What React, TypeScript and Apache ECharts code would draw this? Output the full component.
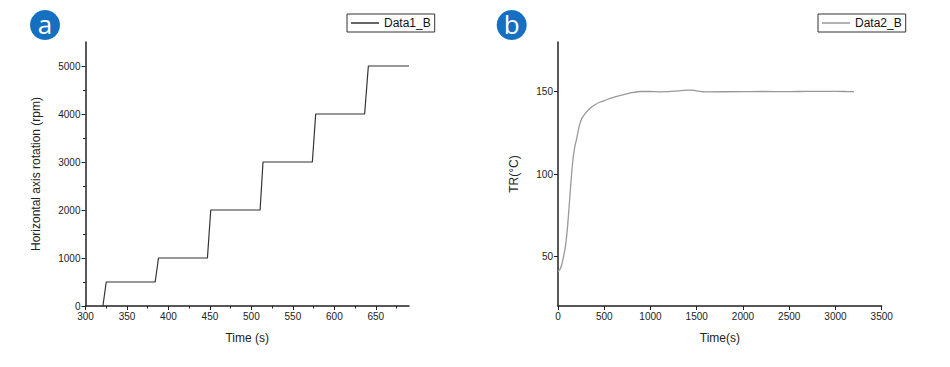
import React, { useEffect, useRef } from "react";
import * as echarts from "echarts";

// Panel a: rotation step profile
const timeA: number[] = [321, 325, 384, 388, 447, 451, 510.5, 514, 573.5, 577.5, 636.5, 641, 690];
const rpmA: number[] = [0, 500, 500, 1000, 1000, 2000, 2000, 3000, 3000, 4000, 4000, 5000, 5000];
const xTicksA: number[] = [300, 350, 400, 450, 500, 550, 600, 650];
const xMinorA: number[] = [325, 375, 425, 475, 525, 575, 625, 675];
const yTicksA: number[] = [0, 1000, 2000, 3000, 4000, 5000];
const yMinorA: number[] = [500, 1500, 2500, 3500, 4500];

// Panel b: temperature curve
const timeB: number[] = [0, 20, 40, 60, 80, 100, 120, 140, 160, 180, 200, 230, 260, 300, 350, 400, 450, 500, 600, 700, 800, 900, 1000, 1100, 1200, 1300, 1400, 1450, 1500, 1550, 1600, 2000, 2200, 2500, 2700, 2900, 3100, 3200];
const tempB: number[] = [41, 42, 45, 50, 56, 66, 80, 95, 108, 116, 121, 129, 134, 137, 140, 142, 143.5, 144.5, 146.5, 148, 149.3, 150, 150, 149.8, 149.9, 150.4, 150.8, 150.8, 150.4, 149.9, 149.8, 149.9, 150, 149.9, 150.1, 150.1, 150, 149.9];
const yTicksB: number[] = [50, 100, 150];

const FONT = "Liberation Sans, Arial, sans-serif";

export default function App() {
  const ref = useRef<HTMLDivElement>(null);
  useEffect(() => {
    document.body.style.margin = "0";
    if (!ref.current) return;
    const chart = echarts.init(ref.current, null, { renderer: "svg" });
    const axisLine = { show: true, onZero: false, lineStyle: { color: "#222", width: 1.5 } };
    const fmt = (v: number) => String(v);
    const labelStyle = { color: "#222", fontSize: 10, fontFamily: FONT, formatter: fmt };
    const nameStyle = { color: "#222", fontSize: 12, fontFamily: FONT };
    const legendBase = {
      orient: "horizontal",
      icon: "rect",
      itemWidth: 28,
      itemHeight: 1.5,
      itemGap: 4,
      padding: [3, 4, 3, 4],
      borderColor: "#333",
      borderWidth: 1,
      textStyle: { color: "#111", fontSize: 12, fontFamily: FONT },
    };
    chart.setOption({
      animation: false,
      backgroundColor: "#fff",
      grid: [
        { left: 85.5, top: 42, width: 323.5, height: 264 },
        { left: 558, top: 42, width: 323.7, height: 264 },
      ],
      legend: [
        { ...legendBase, data: ["Data1_B"], left: 347, top: 14 },
        { ...legendBase, data: ["Data2_B"], left: 818, top: 14 },
      ],
      xAxis: [
        {
          type: "value",
          gridIndex: 0,
          min: 300,
          max: 690,
          interval: 50,
          name: "Time (s)",
          nameLocation: "middle",
          nameGap: 26,
          nameTextStyle: nameStyle,
          axisLine,
          axisTick: { show: true, inside: false, length: 4, customValues: xTicksA, lineStyle: { color: "#222" } },
          axisLabel: { ...labelStyle, margin: 5, customValues: xTicksA },
          splitLine: { show: false },
        },
        {
          type: "value",
          gridIndex: 0,
          min: 300,
          max: 690,
          position: "bottom",
          axisLine: { show: false, onZero: false },
          axisTick: { show: true, inside: false, length: 2.5, customValues: xMinorA, lineStyle: { color: "#222" } },
          axisLabel: { show: false },
          splitLine: { show: false },
        },
        {
          type: "value",
          gridIndex: 1,
          min: 0,
          max: 3500,
          interval: 500,
          name: "Time(s)",
          nameLocation: "middle",
          nameGap: 26,
          nameTextStyle: nameStyle,
          axisLine,
          axisTick: { show: true, inside: false, length: 4, lineStyle: { color: "#222" } },
          axisLabel: { ...labelStyle, margin: 5 },
          splitLine: { show: false },
        },
      ],
      yAxis: [
        {
          type: "value",
          gridIndex: 0,
          min: 0,
          max: 5500,
          name: "Horizontal axis rotation (rpm)",
          nameLocation: "middle",
          nameGap: 44,
          nameTextStyle: nameStyle,
          axisLine,
          axisTick: { show: true, inside: false, length: 4, customValues: yTicksA, lineStyle: { color: "#222" } },
          axisLabel: { ...labelStyle, margin: 5, customValues: yTicksA },
          splitLine: { show: false },
        },
        {
          type: "value",
          gridIndex: 0,
          min: 0,
          max: 5500,
          position: "left",
          axisLine: { show: false, onZero: false },
          axisTick: { show: true, inside: false, length: 2.5, customValues: yMinorA, lineStyle: { color: "#222" } },
          axisLabel: { show: false },
          splitLine: { show: false },
        },
        {
          type: "value",
          gridIndex: 1,
          min: 20,
          max: 180,
          name: "TR(°C)",
          nameLocation: "middle",
          nameGap: 38,
          nameTextStyle: nameStyle,
          axisLine,
          axisTick: { show: true, inside: false, length: 4, customValues: yTicksB, lineStyle: { color: "#222" } },
          axisLabel: { ...labelStyle, margin: 5, customValues: yTicksB },
          splitLine: { show: false },
        },
      ],
      series: [
        {
          name: "Data1_B",
          type: "line",
          xAxisIndex: 0,
          yAxisIndex: 0,
          symbol: "none",
          data: timeA.map((t, i) => [t, rpmA[i]]),
          lineStyle: { color: "#333", width: 1.2 },
          itemStyle: { color: "#333" },
        },
        {
          name: "Data2_B",
          type: "line",
          xAxisIndex: 2,
          yAxisIndex: 2,
          symbol: "none",
          smooth: 0.3,
          data: timeB.map((t, i) => [t, tempB[i]]),
          lineStyle: { color: "#999", width: 1.3 },
          itemStyle: { color: "#999" },
        },
      ],
      graphic: [
        { type: "circle", shape: { cx: 45, cy: 25, r: 15 }, style: { fill: "#1570c2" } },
        {
          type: "text",
          x: 45,
          y: 24,
          style: { text: "a", fill: "#fff", fontSize: 26, fontFamily: "Open Sans, sans-serif", align: "center", verticalAlign: "middle" },
        },
        { type: "circle", shape: { cx: 511.7, cy: 25, r: 15 }, style: { fill: "#1570c2" } },
        {
          type: "text",
          x: 511.7,
          y: 24,
          style: { text: "b", fill: "#fff", fontSize: 26, fontFamily: "Open Sans, sans-serif", align: "center", verticalAlign: "middle" },
        },
      ],
    });
    return () => chart.dispose();
  }, []);
  return <div ref={ref} style={{ width: 950, height: 367 }} />;
}
